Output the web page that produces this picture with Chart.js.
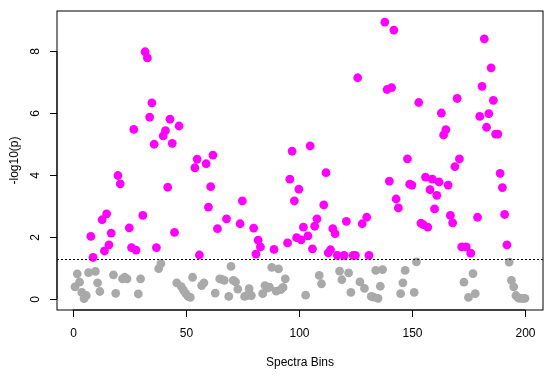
<!DOCTYPE html>
<html>
<head>
<meta charset="utf-8">
<script src="https://cdn.jsdelivr.net/npm/chart.js@4"></script>
<style>
  html, body { margin: 0; padding: 0; background: #fff; }
  canvas { display: block; }
</style>
</head>
<body>
<canvas id="chart" width="557" height="379"></canvas>
<script>
// spectra bins 1..200 and their -log10(p) values
const bins = Array.from({ length: 200 }, (_, i) => i + 1);
const logP = [
  0.39, 0.81, 0.54, 0.21, 0.01, 0.11, 0.85, 2.02, 1.34, 0.89,
  0.52, 0.24, 2.56, 1.55, 2.75, 1.75, 2.13, 0.78, 0.18, 3.99,
  3.72, 0.65, 0.70, 0.65, 2.30, 1.66, 5.48, 1.58, 0.16, 0.65,
  2.70, 7.99, 7.79, 5.88, 6.34, 5.00, 1.66, 0.98, 1.14, 5.27,
  5.44, 3.61, 5.81, 5.03, 2.15, 0.52, 5.59, 0.40, 0.28, 0.17,
  0.08, 0.05, 0.70, 4.24, 4.52, 1.42, 0.43, 0.52, 4.37, 2.97,
  3.63, 4.65, 0.19, 2.27, 0.65, 0.63, 0.60, 2.59, 0.08, 1.05,
  0.60, 0.55, 0.32, 2.43, 3.17, 0.08, 0.11, 0.33, 0.11, 2.29,
  1.45, 1.90, 1.68, 0.17, 0.43, 0.35, 0.38, 1.02, 1.60, 0.25,
  0.97, 0.30, 0.37, 0.65, 1.81, 3.87, 4.78, 3.17, 1.98, 3.55,
  1.91, 2.32, 0.12, 2.04, 4.95, 1.62, 2.35, 2.59, 0.76, 0.49,
  3.04, 4.08, 1.49, 1.59, 2.27, 2.11, 1.41, 0.90, 0.62, 1.41,
  2.51, 0.84, 0.21, 1.41, 1.41, 7.15, 0.55, 2.43, 0.34, 2.64,
  1.41, 0.08, 0.06, 0.92, 0.02, 0.41, 0.95, 8.95, 6.77, 3.81,
  6.83, 8.69, 3.23, 2.94, 0.17, 0.52, 0.92, 4.53, 3.71, 3.68,
  0.21, 1.20, 6.35, 2.45, 2.40, 3.94, 2.32, 3.53, 3.87, 2.91,
  3.35, 3.78, 6.01, 5.30, 5.47, 3.68, 2.70, 2.46, 4.28, 6.48,
  4.53, 1.68, 0.54, 1.68, 0.05, 1.48, 0.82, 0.17, 2.64, 5.90,
  6.87, 8.41, 5.55, 5.99, 7.47, 6.42, 5.33, 5.33, 4.06, 3.60,
  2.73, 1.75, 1.19, 0.60, 0.39, 0.11, 0.03, 0.02, 0.02, 0.02,
];
const xTicks = [0, 50, 100, 150, 200];
const yTicks = [0, 2, 4, 6, 8];
const THRESHOLD = -Math.log10(0.05);

const SIG = "#ff00ff";
const NS = "#a9a9a9";
const FONT = '12px "Liberation Sans", Arial, Helvetica, sans-serif';

// R-style axes, box, labels and the cutoff line
const rAxes = {
  id: "rAxes",
  afterDatasetsDraw(chart) {
    const { ctx, chartArea: a, scales: { x, y } } = chart;
    ctx.save();
    ctx.strokeStyle = "#000";
    ctx.fillStyle = "#000";
    ctx.lineWidth = 1;

    const ty = Math.round(y.getPixelForValue(THRESHOLD)) + 0.5;
    ctx.setLineDash([2, 2]);
    ctx.beginPath();
    ctx.moveTo(a.left, ty);
    ctx.lineTo(a.right, ty);
    ctx.stroke();
    ctx.setLineDash([]);

    ctx.strokeRect(a.left, a.top, a.right - a.left, a.bottom - a.top);

    // x axis
    const x0 = x.getPixelForValue(xTicks[0]);
    const x1 = x.getPixelForValue(xTicks[xTicks.length - 1]);
    ctx.beginPath();
    ctx.moveTo(x0, a.bottom);
    ctx.lineTo(x1, a.bottom);
    ctx.stroke();
    ctx.font = FONT;
    ctx.textAlign = "center";
    ctx.textBaseline = "middle";
    xTicks.forEach((t) => {
      const px = Math.round(x.getPixelForValue(t)) + 0.5;
      ctx.beginPath();
      ctx.moveTo(px, a.bottom);
      ctx.lineTo(px, a.bottom + 7);
      ctx.stroke();
      ctx.fillText(String(t), px, a.bottom + 24);
    });

    // y axis
    const y0 = y.getPixelForValue(yTicks[0]);
    const y1 = y.getPixelForValue(yTicks[yTicks.length - 1]);
    ctx.beginPath();
    ctx.moveTo(a.left, y0);
    ctx.lineTo(a.left, y1);
    ctx.stroke();
    yTicks.forEach((t) => {
      const py = Math.round(y.getPixelForValue(t)) + 0.5;
      ctx.beginPath();
      ctx.moveTo(a.left, py);
      ctx.lineTo(a.left - 7, py);
      ctx.stroke();
      ctx.save();
      ctx.translate(a.left - 21, py);
      ctx.rotate(-Math.PI / 2);
      ctx.fillText(String(t), 0, 0);
      ctx.restore();
    });

    // titles
    ctx.fillText("Spectra Bins", (a.left + a.right) / 2, a.bottom + 53);
    ctx.save();
    ctx.translate(15, (a.top + a.bottom) / 2);
    ctx.rotate(-Math.PI / 2);
    ctx.fillText("-log10(p)", 0, 0);
    ctx.restore();

    ctx.restore();
  },
};

new Chart(document.getElementById("chart"), {
  type: "scatter",
  data: {
    datasets: [{
      data: bins.map((b, i) => ({ x: b, y: logP[i] })),
      backgroundColor: (c) => (c.raw && c.raw.y > THRESHOLD ? SIG : NS),
      borderWidth: 0,
      pointRadius: 4.4,
      pointHoverRadius: 4.4,
    }],
  },
  options: {
    responsive: false,
    animation: false,
    devicePixelRatio: 1,
    layout: { padding: { left: 57, top: 11, right: 14, bottom: 69 } },
    plugins: { legend: { display: false }, tooltip: { enabled: false } },
    scales: {
      x: { type: "linear", display: false, min: -6.96, max: 207.96 },
      y: { type: "linear", display: false, min: -0.358, max: 9.308 },
    },
  },
  plugins: [rAxes],
});
</script>
</body>
</html>
